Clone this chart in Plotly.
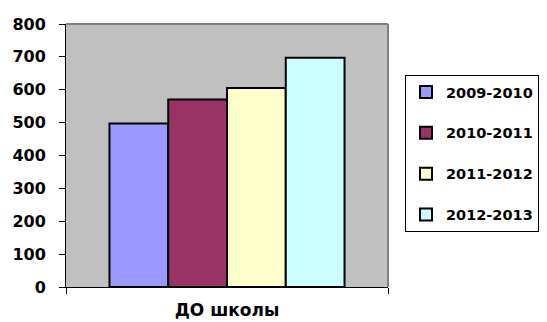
import plotly.graph_objects as go

categories = ["ДО школы"]
series_names = ["2009-2010", "2010-2011", "2011-2012", "2012-2013"]
series_values = [[497], [570], [605], [697]]
series_colors = ["#9999FF", "#993366", "#FFFFCC", "#CCFFFF"]
y_ticks = [0, 100, 200, 300, 400, 500, 600, 700, 800]

FONT = "'DejaVu Sans', Arial, sans-serif"

# page body has an 8px margin, so the figure is drawn 8px right/down
W, H = 539, 314

fig = go.Figure()
for name, vals, col in zip(series_names, series_values, series_colors):
    fig.add_trace(go.Bar(
        x=categories, y=vals, name=name, legendgroup=name,
        marker=dict(color=col, line=dict(color="black", width=2)),
    ))

fig.update_layout(
    width=W, height=H,
    margin=dict(l=58, r=159, t=16, b=35, autoexpand=False),
    paper_bgcolor="white", plot_bgcolor="#C0C0C0",
    barmode="group", bargap=0.27, bargroupgap=0,
    font=dict(family=FONT, size=16, color="black", weight="bold"),
    legend=dict(
        xref="container", yref="container",
        x=397 / W, y=1 - 67 / H, xanchor="left", yanchor="top",
        bordercolor="black", borderwidth=1, bgcolor="white",
        tracegroupgap=19, itemwidth=30,
        font=dict(family=FONT, size=14.5, color="black", weight="bold"),
    ),
    xaxis=dict(
        type="category", range=[-0.5, 0.5], tickson="boundaries",
        ticks="outside", ticklen=6, tickcolor="black",
        showline=True, linecolor="black", linewidth=1,
        showgrid=False, ticklabelstandoff=8, automargin=False,
        tickfont=dict(family=FONT, size=17, color="black", weight="bold"),
    ),
    yaxis=dict(
        range=[0, 800], tickvals=y_ticks,
        ticks="outside", ticklen=6, tickcolor="black",
        showline=True, linecolor="black", linewidth=1,
        showgrid=False, zeroline=False, ticklabelstandoff=10, automargin=False,
        tickfont=dict(family=FONT, size=16, color="black", weight="bold"),
    ),
    shapes=[
        dict(type="line", xref="paper", yref="paper", x0=0, x1=1, y0=1, y1=1,
             line=dict(color="#808080", width=2)),
        dict(type="line", xref="paper", yref="paper", x0=1, x1=1, y0=0, y1=1,
             line=dict(color="#808080", width=2)),
    ],
    showlegend=True,
)

fig.write_html("out.html")
